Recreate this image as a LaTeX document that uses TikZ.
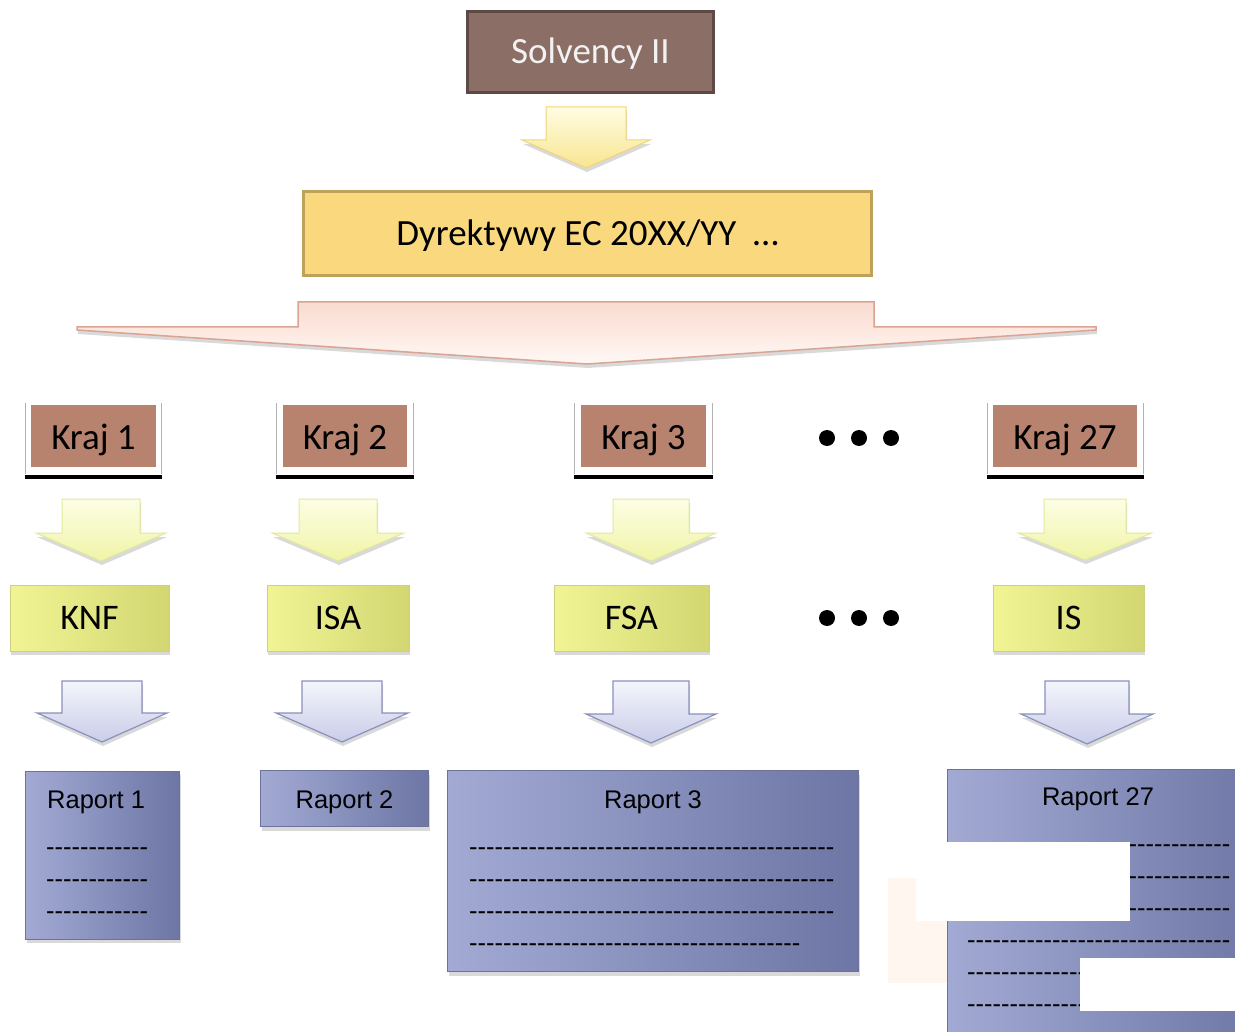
\documentclass[tikz,border=0pt]{standalone}
\usepackage{fontspec}
\setmainfont{Carlito}
\newfontfamily\arialf{Liberation Sans}
\usetikzlibrary{shadows}
\definecolor{solvfill}{HTML}{8B6E65}
\definecolor{solvdraw}{HTML}{5E4944}
\definecolor{dirfill}{HTML}{FAD97E}
\definecolor{dirdraw}{HTML}{BFA25A}
\definecolor{krajfill}{HTML}{B7836F}
\definecolor{greenA}{HTML}{F1F493}
\definecolor{greenB}{HTML}{D2D772}
\definecolor{greendraw}{HTML}{CBD17E}
\definecolor{repA}{HTML}{A2AAD4}
\definecolor{repB}{HTML}{6D76A4}
\definecolor{repdraw}{HTML}{6C7399}
\definecolor{yelA}{HTML}{FFFCE2}
\definecolor{yelB}{HTML}{F8E591}
\definecolor{yeldraw}{HTML}{F0D572}
\definecolor{ygA}{HTML}{FDFEE4}
\definecolor{ygB}{HTML}{F0F4A6}
\definecolor{ygdraw}{HTML}{E3E99A}
\definecolor{blA}{HTML}{F4F5FC}
\definecolor{blB}{HTML}{C9CDE8}
\definecolor{bldraw}{HTML}{8A90BE}
\definecolor{pkA}{HTML}{FADBD0}
\definecolor{pkB}{HTML}{FFF8F5}
\definecolor{pkdraw}{HTML}{D9A493}
\definecolor{peach}{HTML}{FFF6F0}
\newcommand\hyph[1]{\foreach\hi in {1,...,#1}{\mbox{-}}}
\newcommand\blockarr[7]{%
  \draw[#7] (#1-#3,#2) -- (#1+#3,#2) -- (#1+#3,#4) -- (#1+#5,#4) -- (#1,#6)
    -- (#1-#5,#4) -- (#1-#3,#4) -- cycle;}
\begin{document}
\begin{tikzpicture}[x=1pt,y=-1pt,
  soft/.style={drop shadow={shadow xshift=1pt,shadow yshift=-4pt,opacity=0.3}},
  solvbox/.style={draw=solvdraw,line width=3pt,fill=solvfill,minimum width=246pt,minimum height=81pt,
    inner sep=0pt,text=white!95!black,font=\fontsize{37}{40}\selectfont,text height=23.8pt,text depth=0pt},
  dirbox/.style={draw=dirdraw,line width=3pt,fill=dirfill,minimum width=568pt,minimum height=84pt,
    inner sep=0pt,font=\fontsize{37}{40}\selectfont,text height=23.8pt,text depth=0pt},
  krajbox/.style={fill=krajfill,minimum height=62pt,inner sep=0pt,font=\fontsize{37}{40}\selectfont,
    text height=27.8pt,text depth=0pt},
  frameline/.style={draw=black!30,line width=0.8pt},
  baseline/.style={line width=3.5pt},
  greenbox/.style={draw=greendraw,line width=1pt,left color=greenA,right color=greenB,minimum height=66pt,
    inner sep=0pt,font=\fontsize{36}{40}\selectfont,soft,text height=23.2pt,text depth=0pt},
  repbox/.style={draw=repdraw,line width=1pt,left color=repA,right color=repB,inner sep=0pt,soft},
  reptext/.style={font=\arialf\fontsize{25.5}{28}\selectfont,inner sep=0pt},
  capt/.style={reptext,text height=18.3pt,text depth=0pt},
  yelarrow/.style={draw=yeldraw,line width=1pt,top color=yelA,bottom color=yelB,soft},
  ygarrow/.style={draw=ygdraw,line width=1pt,top color=ygA,bottom color=ygB,soft},
  blarrow/.style={draw=bldraw,line width=1.2pt,top color=blA,bottom color=blB,soft},
  dot/.style={circle,fill=black,minimum size=16pt,inner sep=0pt}
]
\useasboundingbox (0,0) rectangle (1235,1032);

% top
\node[solvbox] (solv) at (590.5,52) {Solvency II};
\blockarr{586}{107}{40}{140}{64}{168}{yelarrow}
\node[dirbox] (dir) at (587.5,234) {Dyrektywy EC 20XX/YY\ \ …};

% big arrow
\draw[pkdraw,line width=1.5pt,top color=pkA,bottom color=pkB,soft]
  (298,302) -- (874,302) -- (874,327) -- (1096,327) -- (1096,330) -- (587,364)
  -- (77,330) -- (77,327) -- (298,327) -- cycle;

% Kraj row
\foreach \nm/\l/\r/\il/\ir/\txt in {k1/25/161/31/156/Kraj 1, k2/276/413/283/407/Kraj 2,
    k3/574/712/581/706/Kraj 3, k27/987/1143/993/1137/Kraj 27}{
  \draw[frameline] (\l,403) -- (\l,474);
  \draw[frameline] (\r,403) -- (\r,474);
  \node[krajbox,minimum width=\ir-\il] (\nm) at ({(\il+\ir)/2},436) {\txt};
  \draw[baseline] (\l,477) -- (\r+1,477);
}
\node[dot] (d1) at (827,438) {};
\node[dot] (d2) at (859,438) {};
\node[dot] (d3) at (891,438) {};

% arrows row 2
\blockarr{101}{499}{39}{533}{65}{561}{ygarrow}
\blockarr{338}{499}{39}{533}{66}{561}{ygarrow}
\blockarr{651}{499}{38}{533}{65}{561}{ygarrow}
\blockarr{1085}{499}{41}{533}{67}{560}{ygarrow}

% green boxes
\node[greenbox,minimum width=159pt] (knf) at (89.5,618) {KNF};
\node[greenbox,minimum width=142pt] (isa) at (338,618) {ISA};
\node[greenbox,minimum width=155pt] (fsa) at (631.5,618) {FSA};
\node[greenbox,minimum width=151pt] (is) at (1068.5,618) {IS};
\node[dot] (e1) at (827,618) {};
\node[dot] (e2) at (859,618) {};
\node[dot] (e3) at (891,618) {};

% arrows row 3
\blockarr{102}{681}{40}{713}{65}{742}{blarrow}
\blockarr{342}{681}{40}{713}{66}{742}{blarrow}
\blockarr{651}{681}{38}{714}{65}{743}{blarrow}
\blockarr{1087}{681}{42}{714}{66}{744}{blarrow}

% reports
\node[repbox,minimum width=154pt,minimum height=168pt] (r1) at (102.5,855) {};
\node[capt,anchor=west] (r1t) at (47,799) {Raport 1};
\foreach \yy/\nm in {848/a,880/b,912/c}{
  \node[reptext,anchor=west] (r1\nm) at (46,\yy+4) {\hyph{12}};
}
\node[repbox,minimum width=168pt,minimum height=56pt] (r2) at (344.5,798.5) {};
\node[capt] (r2t) at (344.5,799) {Raport 2};

\node[repbox,minimum width=411pt,minimum height=201pt] (r3) at (653,871) {};
\node[capt] (r3t) at (653,799) {Raport 3};
\foreach \yy/\nm in {848/a,880/b,912/c}{
  \node[reptext,anchor=west] (r3\nm) at (469,\yy+4) {\hyph{43}};
}
\node[reptext,anchor=west] (r3d) at (469,948) {\hyph{39}};

\fill[peach] (888,878) rectangle (950,983);
\node[repbox,minimum width=320pt,minimum height=300pt] (r27) at (1107,919) {};
\node[capt] (r27t) at (1098,796) {Raport 27};
\foreach \yy/\nm in {845/a,877/b,909/c,941/d,973/e,1005/f}{
  \node[reptext,anchor=west] (r27\nm) at (967,\yy+4) {\hyph{31}};
}
\fill[white] (916,842) rectangle (1130,921);
\fill[white] (1080,958) rectangle (1240,1011);
\end{tikzpicture}
\end{document}
